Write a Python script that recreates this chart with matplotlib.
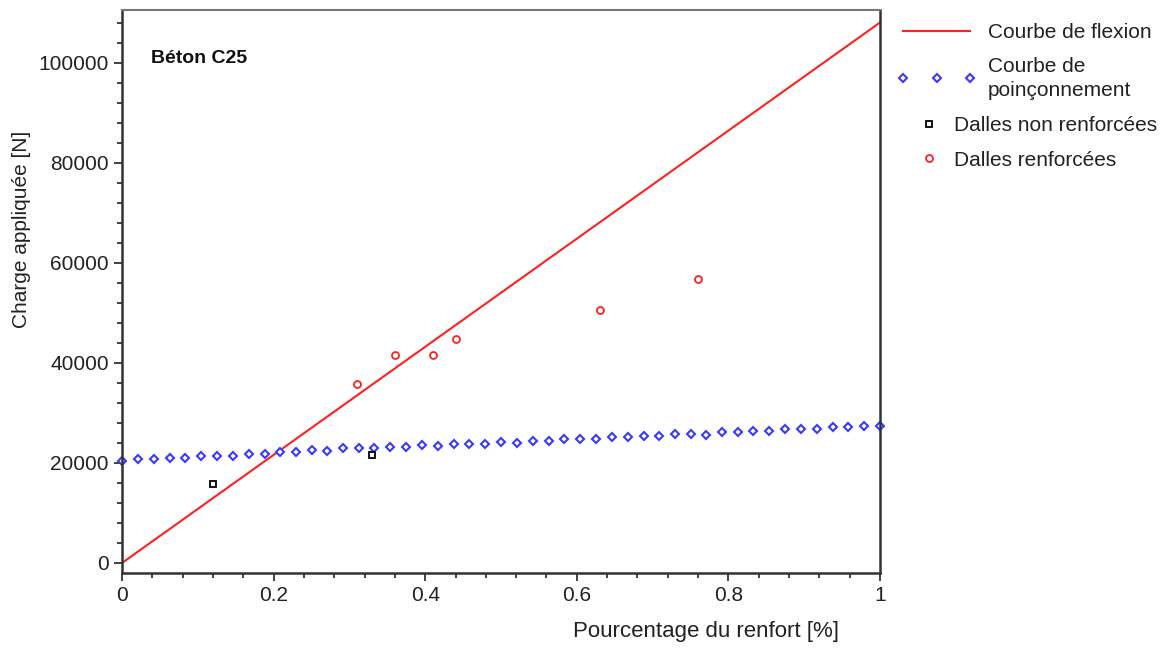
import matplotlib.pyplot as plt
from matplotlib.ticker import MultipleLocator, FuncFormatter

plt.rcParams['font.family'] = ['Liberation Sans', 'DejaVu Sans']

# ---------------------------------------------------------------------------
# Donnees
# ---------------------------------------------------------------------------

# Courbe de flexion (droite)
flexion_x = [0.0, 1.0]
flexion_y = [0, 108000]

# Courbe de poinconnement (49 points)
poinc_x = [0.000, 0.021, 0.042, 0.063, 0.083, 0.104, 0.125, 0.146, 0.167, 0.188,
           0.208, 0.229, 0.250, 0.271, 0.292, 0.313, 0.333, 0.354, 0.375, 0.396,
           0.417, 0.438, 0.458, 0.479, 0.500, 0.521, 0.542, 0.563, 0.583, 0.604,
           0.625, 0.646, 0.667, 0.688, 0.708, 0.729, 0.750, 0.771, 0.792, 0.813,
           0.833, 0.854, 0.875, 0.896, 0.917, 0.938, 0.958, 0.979, 1.000]
poinc_y = [20460, 20800, 20800, 20930, 21070, 21400, 21470, 21470, 21800, 21800,
           22130, 22130, 22600, 22470, 22930, 22930, 23070, 23130, 23270, 23600,
           23470, 23800, 23800, 23800, 24130, 23930, 24470, 24470, 24800, 24800,
           24800, 25130, 25130, 25470, 25470, 25800, 25800, 25600, 26130, 26130,
           26470, 26470, 26800, 26800, 26800, 27130, 27130, 27470, 27470]

# Dalles non renforcees
non_renf_x = [0.12, 0.33]
non_renf_y = [15800, 21600]

# Dalles renforcees
renf_x = [0.31, 0.36, 0.41, 0.44, 0.63, 0.76]
renf_y = [35800, 41500, 41500, 44800, 50500, 56800]

x_ticks = [0, 0.2, 0.4, 0.6, 0.8, 1.0]
y_ticks = [0, 20000, 40000, 60000, 80000, 100000]

# ---------------------------------------------------------------------------

fig = plt.figure(figsize=(11.68, 6.5), dpi=100)
ax = fig.add_axes([122 / 1168, 1 - 573 / 650, 758 / 1168, 563 / 650])

red = '#ff2020'
blue = '#3a3aff'

l_flex, = ax.plot(flexion_x, flexion_y, color=red, lw=1.5, label='Courbe de flexion')
l_poinc, = ax.plot(poinc_x, poinc_y, ls='none', marker='D', ms=4.5, mfc='white',
                   mec=blue, mew=1.5, label='Courbe de\npoinçonnement', clip_on=False)
l_non, = ax.plot(non_renf_x, non_renf_y, ls='none', marker='s', ms=5, mfc='white',
                 mec='black', mew=1.3, label='Dalles non renforcées')
l_renf, = ax.plot(renf_x, renf_y, ls='none', marker='o', ms=5, mfc='white',
                  mec=red, mew=1.3, label='Dalles renforcées')

ax.set_xlim(0, 1)
ax.set_ylim(-2000, 110500)
ax.set_xticks(x_ticks)
ax.set_yticks(y_ticks)
ax.xaxis.set_minor_locator(MultipleLocator(0.04))
ax.yaxis.set_minor_locator(MultipleLocator(4000))
ax.xaxis.set_major_formatter(FuncFormatter(lambda v, p: '%g' % v))
ax.yaxis.set_major_formatter(FuncFormatter(lambda v, p: '%d' % v))

ax.tick_params(which='major', direction='out', length=6, width=1.3, color='#333333',
               labelsize=15, labelcolor='#222222')
ax.tick_params(which='minor', direction='out', length=3.5, width=1.3, color='#333333')

for side in ['left', 'bottom', 'right']:
    ax.spines[side].set_color('#333333')
    ax.spines[side].set_linewidth(1.8)
ax.spines['top'].set_color('#777777')
ax.spines['top'].set_linewidth(1.5)

ax.set_xlabel('Pourcentage du renfort [%]', fontsize=16, color='#222222')
ax.xaxis.set_label_coords(0.77, -0.085)
ax.set_ylabel('Charge appliquée [N]', fontsize=15, color='#222222')
ax.yaxis.set_label_coords(-0.12, 0.61)

ax.text(0.038, 0.905, 'Béton C25', transform=ax.transAxes, fontsize=14,
        fontweight='bold', color='#111111')

# Legende a droite, en dehors du graphique
leg1 = fig.legend([l_flex, l_poinc], ['Courbe de flexion', 'Courbe de\npoinçonnement'],
                  loc='upper left', bbox_to_anchor=(897 / 1168, 1 - 23 / 650),
                  frameon=False, fontsize=15, handlelength=3.8, handletextpad=0.55,
                  numpoints=3, labelspacing=0.7, borderpad=0, borderaxespad=0)
for t in leg1.get_texts():
    t.set_color('#222222')
    t.set_linespacing(1.35)
leg2 = fig.legend([l_non, l_renf], ['Dalles non renforcées', 'Dalles renforcées'],
                  loc='upper left', bbox_to_anchor=(921 / 1168, 1 - 116 / 650),
                  frameon=False, fontsize=15, handlelength=0.8, handletextpad=0.8,
                  numpoints=1, labelspacing=0.75, borderpad=0, borderaxespad=0)
for t in leg2.get_texts():
    t.set_color('#222222')

plt.savefig('out.png', dpi=100)
